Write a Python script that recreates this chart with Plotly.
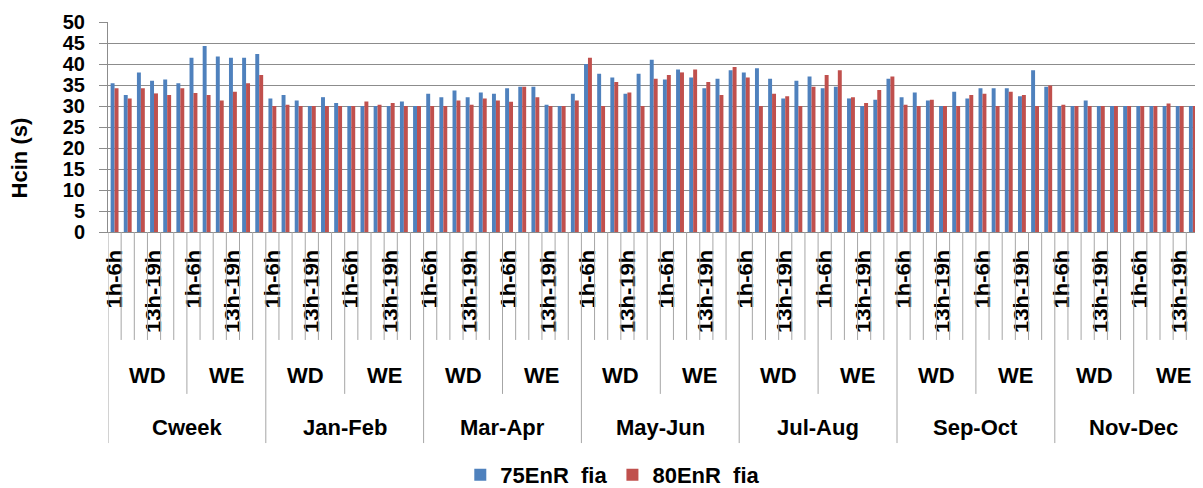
import plotly.graph_objects as go

periods = ["Cweek", "Jan-Feb", "Mar-Apr", "May-Jun", "Jul-Aug", "Sep-Oct", "Nov-Dec"]
day_types = ["WD", "WE"]
slots_per_day = 6
shown_slot_labels = {0: "1h-6h", 3: "13h-19h"}

s75_cweek = [35.4, 32.6, 38.0, 36.0, 36.3, 35.4, 41.5, 44.3, 41.8, 41.5, 41.5, 42.4]
s75_janfeb = [31.8, 32.6, 31.3, 30.0, 32.1, 30.7, 30.0, 30.0, 30.0, 30.0, 31.1, 30.0]
s75_marapr = [32.9, 32.1, 33.7, 32.1, 33.2, 32.9, 34.2, 34.6, 34.6, 30.3, 30.0, 32.9]
s75_mayjun = [40.0, 37.7, 36.8, 32.9, 37.7, 41.0, 36.3, 38.7, 36.8, 34.2, 36.5, 38.5]
s75_julaug = [38.0, 39.0, 36.5, 31.8, 36.0, 37.0, 34.2, 34.6, 31.8, 30.0, 31.5, 36.5]
s75_sepoct = [32.1, 33.2, 31.3, 30.0, 33.4, 31.8, 34.2, 34.2, 34.2, 32.3, 38.5, 34.6]
s75_novdec = [30.0, 30.0, 31.3, 30.0, 30.0, 30.0, 30.0, 30.0, 30.0, 30.0, 30.0, 30.0]

s80_cweek = [34.2, 31.8, 34.2, 33.0, 32.6, 34.2, 33.1, 32.6, 31.3, 33.4, 35.4, 37.4]
s80_janfeb = [30.0, 30.3, 30.0, 30.0, 30.0, 30.0, 30.0, 31.1, 30.3, 30.7, 30.0, 30.0]
s80_marapr = [30.0, 30.0, 31.3, 30.3, 31.8, 31.3, 31.0, 34.6, 32.1, 30.0, 30.0, 31.3]
s80_mayjun = [41.5, 30.0, 35.7, 33.2, 30.0, 36.5, 37.4, 38.0, 38.7, 35.7, 32.6, 39.3]
s80_julaug = [36.8, 30.0, 32.9, 32.3, 30.0, 34.6, 37.4, 38.5, 32.1, 30.7, 33.8, 37.0]
s80_sepoct = [30.3, 30.0, 31.5, 30.0, 30.0, 32.6, 32.9, 30.0, 33.4, 32.6, 30.0, 34.9]
s80_novdec = [30.3, 30.0, 30.0, 30.0, 30.0, 30.0, 30.0, 30.0, 30.6, 30.0, 30.0, 30.0]

series_75 = s75_cweek + s75_janfeb + s75_marapr + s75_mayjun + s75_julaug + s75_sepoct + s75_novdec
series_80 = s80_cweek + s80_janfeb + s80_marapr + s80_mayjun + s80_julaug + s80_sepoct + s80_novdec

n = len(series_75)
xs = list(range(n))
per_period = slots_per_day * len(day_types)

FONT = "Liberation Sans, Arial, sans-serif"
fig = go.Figure()
fig.add_trace(go.Bar(x=xs, y=series_75, name="75EnR  fia", marker=dict(color="#4F81BD", line=dict(width=0))))
fig.add_trace(go.Bar(x=xs, y=series_80, name="80EnR  fia", marker=dict(color="#C0504D", line=dict(width=0))))

tickvals, ticktext = [], []
for i in range(n):
    s = i % slots_per_day
    if s in shown_slot_labels:
        tickvals.append(i)
        ticktext.append(shown_slot_labels[s])

shapes = []
for b in range(n + 1):
    if b % per_period == 0:
        y1 = -1.005
    elif b % slots_per_day == 0:
        y1 = -0.771
    else:
        y1 = -0.514
    shapes.append(dict(type="line", xref="x", yref="paper", x0=b - 0.5, x1=b - 0.5, y0=0, y1=y1,
                       line=dict(color="#A6A6A6", width=1)))

annotations = []
for p, name in enumerate(periods):
    base = p * per_period
    annotations.append(dict(x=base + per_period / 2 - 0.5, y=-0.929, xref="x", yref="paper", text=name,
                            showarrow=False, xanchor="center", yanchor="middle",
                            font=dict(size=22, family=FONT, color="#000", weight="bold")))
    for d, dt in enumerate(day_types):
        annotations.append(dict(x=base + d * slots_per_day + slots_per_day / 2 - 0.5, y=-0.684, xref="x", yref="paper",
                                text=dt, showarrow=False, xanchor="center", yanchor="middle",
                                font=dict(size=22, family=FONT, color="#000", weight="bold")))
annotations.append(dict(x=-0.081, y=0.352, xref="paper", yref="paper", text="Hcin (s)", textangle=-90,
                        showarrow=False, xanchor="center", yanchor="middle",
                        font=dict(size=22, family=FONT, color="#000", weight="bold")))

fig.update_layout(
    width=1195, height=480,
    margin=dict(l=100, r=0, t=14, b=256, pad=0, autoexpand=False),
    paper_bgcolor="white", plot_bgcolor="white",
    barmode="group", bargap=0.4, bargroupgap=0,
    font=dict(family=FONT, size=22, color="#000", weight="bold"),
    showlegend=True,
    legend=dict(orientation="h", x=0.461, xanchor="center", y=-1.157, yanchor="middle",
                font=dict(size=22, family=FONT, color="#000", weight="bold"), itemwidth=30),
    xaxis=dict(range=[-0.5, 82.77], tickmode="array", tickvals=tickvals, ticktext=ticktext,
               tickangle=-90, ticks="", showgrid=False, showline=True, linecolor="#8C8C8C", linewidth=1,
               zeroline=False, ticklabelstandoff=8, automargin=False,
               tickfont=dict(size=22, family=FONT, color="#000", weight="bold")),
    yaxis=dict(range=[0, 50], tickmode="linear", tick0=0, dtick=5, ticks="outside", ticklen=8,
               tickcolor="#8C8C8C", showline=True, linecolor="#8C8C8C", linewidth=1, automargin=False,
               showgrid=True, gridcolor="#8C8C8C", gridwidth=1, zeroline=False, ticklabelstandoff=10,
               tickfont=dict(size=20, family=FONT, color="#000", weight="bold")),
    shapes=shapes, annotations=annotations,
)
fig.write_html("out.html")
